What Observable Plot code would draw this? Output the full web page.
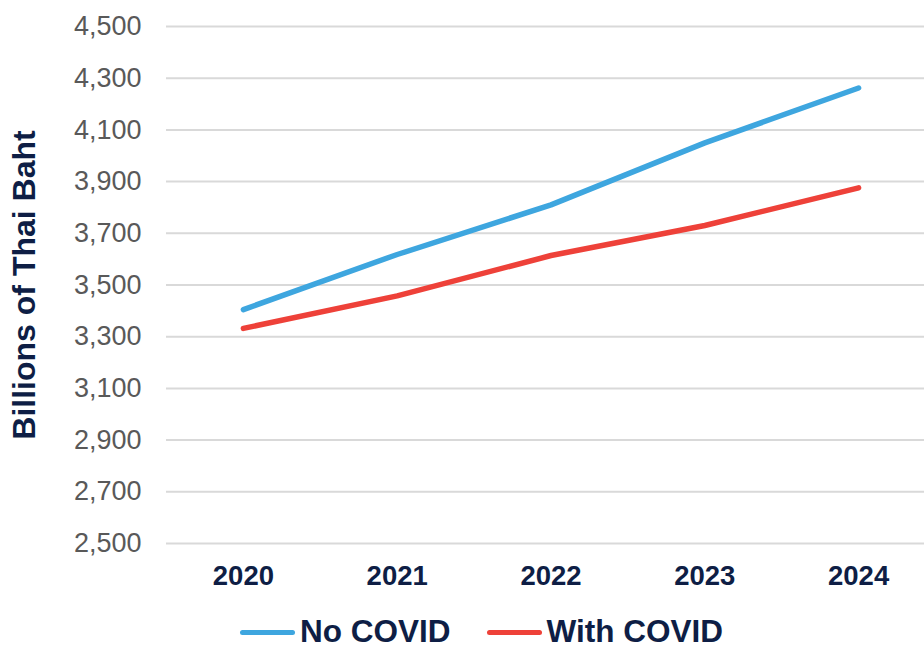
<!DOCTYPE html>
<html>
<head>
<meta charset="utf-8">
<script src="https://cdn.jsdelivr.net/npm/d3@7"></script>
<script src="https://cdn.jsdelivr.net/npm/@observablehq/plot@0.6"></script>
<style>
  html, body { margin: 0; padding: 0; background: #fff; }
  body { width: 924px; height: 648px; overflow: hidden; font-family: "Liberation Sans", Arial, sans-serif; }
  #legend { display: flex; align-items: center; padding-left: 240px; height: 48px; margin-top: 8px; }
  .item { display: flex; align-items: center; margin-right: 36px; }
  .sw { width: 55px; height: 5px; border-radius: 3px; margin-right: 5px; }
  .lab { font-weight: bold; font-size: 31.5px; color: #0e1e45; line-height: 1; }
</style>
</head>
<body>
<div id="chart"></div>
<div id="legend"></div>
<script>
const years = [2020, 2021, 2022, 2023, 2024];
const noCovid = [3405, 3618, 3810, 4050, 4262];
const withCovid = [3332, 3458, 3614, 3730, 3876];
const seriesNames = ["No COVID", "With COVID"];
const seriesColors = ["#3ea6df", "#ee4139"];
const yTicks = [2500, 2700, 2900, 3100, 3300, 3500, 3700, 3900, 4100, 4300, 4500];
const yTitle = "Billions of Thai Baht";

const navy = "#0e1e45";
const rows = [];
years.forEach((yr, i) => {
  rows.push({year: yr, value: noCovid[i], series: seriesNames[0]});
  rows.push({year: yr, value: withCovid[i], series: seriesNames[1]});
});

const chart = Plot.plot({
  width: 924,
  height: 600,
  marginLeft: 166,
  marginRight: -11,
  marginTop: 26,
  marginBottom: 57,
  style: {fontFamily: '"Liberation Sans", Arial, sans-serif', background: "#fff"},
  x: {domain: [2019.5, 2024.5]},
  y: {domain: [2500, 4500]},
  color: {domain: seriesNames, range: seriesColors},
  marks: [
    Plot.ruleY(yTicks, {stroke: "#d9d9d9", strokeWidth: 2}),
    Plot.axisY({ticks: yTicks, tickFormat: d3.format(","), tickSize: 0, tickPadding: 25,
      fontSize: 27, fill: "#595959", label: null}),
    Plot.axisX({ticks: years, tickFormat: d => String(d), tickSize: 0, tickPadding: 22,
      fontSize: 27.5, fontWeight: "bold", fill: navy, label: null}),
    Plot.text([yTitle], {frameAnchor: "left", text: d => d, rotate: -90, dx: -142, fontSize: 32,
      fontWeight: "bold", fill: navy, textAnchor: "middle", lineAnchor: "middle"}),
    Plot.line(rows, {x: "year", y: "value", z: "series", stroke: "series", strokeWidth: 5.5,
      strokeLinecap: "round", strokeLinejoin: "round"})
  ]
});
document.getElementById("chart").appendChild(chart);

const legend = document.getElementById("legend");
seriesNames.forEach((name, i) => {
  const item = document.createElement("div");
  item.className = "item";
  const sw = document.createElement("div");
  sw.className = "sw";
  sw.style.background = seriesColors[i];
  const lab = document.createElement("span");
  lab.className = "lab";
  lab.textContent = name;
  item.appendChild(sw);
  item.appendChild(lab);
  legend.appendChild(item);
});
</script>
</body>
</html>
